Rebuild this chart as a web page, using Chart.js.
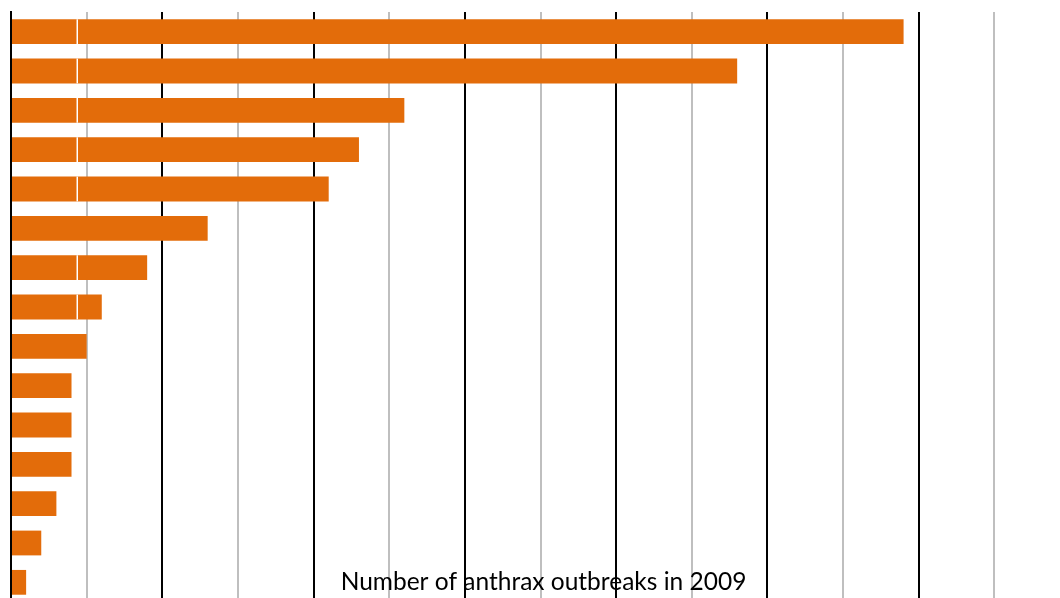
<!DOCTYPE html>
<html>
<head>
<meta charset="utf-8">
<script src="https://cdn.jsdelivr.net/npm/chart.js@4"></script>
<style>
    html, body { margin: 0; padding: 0; background: #fff; overflow: hidden; }
    #wrap { width: 1080px; height: 620px; }
</style>
</head>
<body>
<div id="wrap"><canvas id="outbreakChart" width="1080" height="620"></canvas></div>
<script>
// bars, top to bottom (category names are cut off in the picture)
const categories = ['1', '2', '3', '4', '5', '6', '7', '8', '9', '10', '11', '12', '13', '14', '15'];
const outbreaks = [59, 48, 26, 23, 21, 13, 9, 6, 5, 4, 4, 4, 3, 2, 1];
// thin white break seen inside some bars
const breakAt = [4.33, 4.33, 4.33, 4.33, 4.33, null, 4.33, 4.33, null, null, null, null, null, null, null];
const xTicks = { min: 0, max: 70, step: 5 };
const axisTitle = 'Number of anthrax outbreaks in 2009';

let outbreakChart;

document.addEventListener('DOMContentLoaded', () => {
    renderOutbreakChart();
});

const bottomTitle = {
    id: 'bottomTitle',
    afterDraw(chart) {
        const ctx = chart.ctx;
        const area = chart.chartArea;
        ctx.save();
        ctx.font = '24.5px Lato, "Open Sans", sans-serif';
        ctx.fillStyle = '#000';
        ctx.textAlign = 'center';
        ctx.textBaseline = 'alphabetic';
        ctx.fillText(axisTitle, (area.left + area.right) / 2 + 3, 590);
        ctx.restore();
    }
};

function renderOutbreakChart() {
    const ctx = document.getElementById('outbreakChart').getContext('2d');

    if (outbreakChart) {
        outbreakChart.destroy();
    }

    outbreakChart = new Chart(ctx, {
        type: 'bar',
        data: {
            labels: categories,
            datasets: [
                {
                    label: 'Outbreaks',
                    data: outbreaks,
                    backgroundColor: '#E36C0A',
                    borderWidth: 0,
                    categoryPercentage: 1,
                    barPercentage: 0.63,
                    order: 2
                },
                {
                    label: 'break',
                    data: breakAt.map(v => v === null ? null : [v, v + 0.1]),
                    backgroundColor: '#ffffff',
                    borderWidth: 0,
                    grouped: false,
                    categoryPercentage: 1,
                    barPercentage: 0.63,
                    order: 1
                }
            ]
        },
        options: {
            indexAxis: 'y',
            responsive: false,
            animation: false,
            layout: {
                padding: { left: 11, top: 12, right: 10, bottom: 18 }
            },
            plugins: {
                legend: { display: false },
                tooltip: { enabled: false }
            },
            scales: {
                x: {
                    min: xTicks.min,
                    max: xTicks.max,
                    ticks: { display: false, stepSize: xTicks.step },
                    grid: {
                        drawTicks: false,
                        color: c => (c.tick && c.tick.value % 10 === 0) ? '#000000' : '#bfbfbf',
                        lineWidth: 2
                    },
                    border: { display: false }
                },
                y: {
                    ticks: { display: false },
                    grid: { display: false, drawTicks: false },
                    border: { display: true, color: '#000000', width: 2 }
                }
            }
        },
        plugins: [bottomTitle]
    });
}
</script>
</body>
</html>
